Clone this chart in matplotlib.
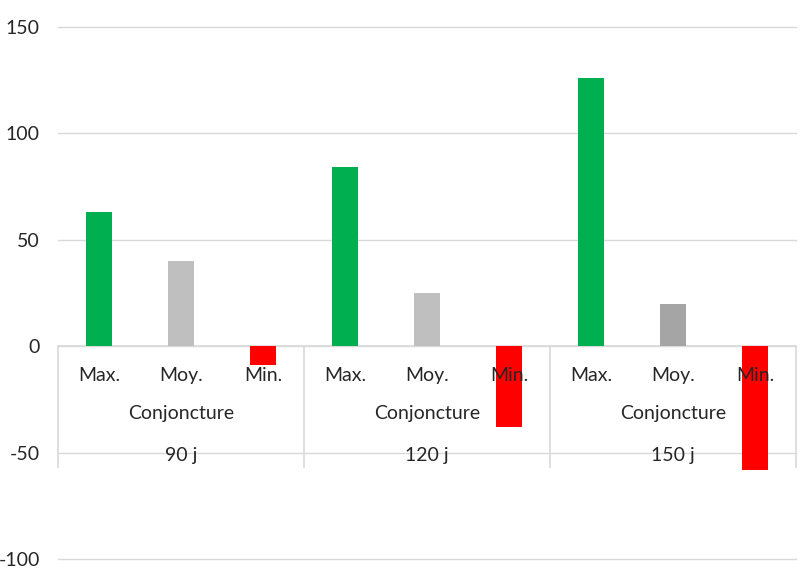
import numpy as np
import matplotlib.pyplot as plt

plt.rcParams['font.family'] = ['Lato', 'DejaVu Sans']

groups = ["90 j", "120 j", "150 j"]
level2 = "Conjoncture"
stats = ["Max.", "Moy.", "Min."]
values = [
    [63, 40, -9],
    [84, 25, -38],
    [126, 20, -58],
]
colors = [
    ["#00B050", "#BFBFBF", "#FF0000"],
    ["#00B050", "#BFBFBF", "#FF0000"],
    ["#00B050", "#A5A5A5", "#FF0000"],
]
yticks = [-100, -50, 0, 50, 100, 150]

fig = plt.figure(figsize=(8.06, 5.76), dpi=100)
ax = fig.add_axes([58 / 806, 17 / 576, 738 / 806, 532 / 576])

x = np.arange(len(groups) * len(stats))
vals = np.array(values).ravel()
cols = np.array(colors).ravel()
ax.bar(x, vals, width=0.32, color=cols, zorder=2)

ax.set_xlim(-0.5, len(x) - 0.5)
ax.set_ylim(-100, 150)
ax.set_yticks(yticks)
ax.set_yticklabels([str(t) for t in yticks], fontsize=14)
ax.tick_params(axis="y", length=0, pad=13)
ax.set_xticks([])
ax.yaxis.grid(True, color="#D9D9D9", lw=1, zorder=0)
for gl in ax.get_ygridlines():
    gl.set_clip_on(False)
ax.set_axisbelow(True)
for s in ax.spines.values():
    s.set_visible(False)

grid_c = "#D9D9D9"
ax.axhline(0, color=grid_c, lw=1.2, zorder=1)
for k in range(len(groups) + 1):
    xs = k * len(stats) - 0.5
    ax.plot([xs, xs], [0, -56.9], color=grid_c, lw=1.2, zorder=1, clip_on=False)

for g, name in enumerate(groups):
    for i, st in enumerate(stats):
        ax.text(g * 3 + i, -13.6, st, ha="center", va="center", fontsize=14, color="#262626", zorder=5)
    ax.text(g * 3 + 1, -31.5, level2, ha="center", va="center", fontsize=14, color="#262626", zorder=5)
    ax.text(g * 3 + 1, -51.2, name, ha="center", va="center", fontsize=14, color="#262626", zorder=5)

for lab in ax.get_yticklabels():
    lab.set_color("#262626")

fig.savefig("out.png", dpi=100)
